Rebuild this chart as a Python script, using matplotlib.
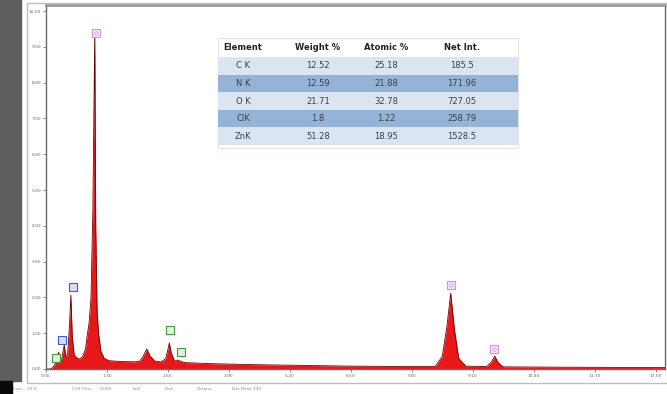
import matplotlib.pyplot as plt
import matplotlib.patches as mpatches

# spectrum points (keV, counts in axis units)
energy = [0.00, 0.10, 0.15, 0.20, 0.24, 0.27, 0.30, 0.34, 0.37, 0.39, 0.42, 0.46,
          0.50, 0.53, 0.56, 0.60, 0.66, 0.72, 0.78, 0.84, 0.88, 0.92, 0.96, 1.00,
          1.04, 1.06, 1.09, 1.12, 1.17, 1.24, 1.35, 1.60, 1.90, 2.00, 2.07, 2.15,
          2.22, 2.32, 2.45, 2.55, 2.60, 2.63, 2.67, 2.74, 2.81, 2.86, 2.95, 3.50,
          4.50, 5.50, 6.50, 7.50, 8.30, 8.45, 8.55, 8.63, 8.71, 8.80, 8.95, 9.40,
          9.50, 9.57, 9.64, 9.75, 11.00, 13.20]
counts = [0.00, 0.00, 0.05, 0.15, 0.30, 0.47, 0.25, 0.30, 0.55, 0.67, 0.35, 0.40,
          1.20, 2.07, 0.90, 0.40, 0.30, 0.28, 0.35, 0.55, 0.95, 1.30, 2.00, 4.50,
          9.47, 4.00, 1.60, 1.00, 0.50, 0.30, 0.23, 0.21, 0.20, 0.22, 0.35, 0.56,
          0.36, 0.22, 0.20, 0.28, 0.55, 0.73, 0.45, 0.22, 0.25, 0.22, 0.18, 0.15,
          0.12, 0.10, 0.08, 0.07, 0.07, 0.35, 1.20, 2.12, 1.10, 0.30, 0.08, 0.07,
          0.20, 0.36, 0.18, 0.06, 0.05, 0.04]

# peak id boxes (keV, height of box, colour kind)
mark_kev = [0.22, 0.34, 0.57, 1.06, 2.65, 2.87, 8.63, 9.55]
mark_y = [0.31, 0.81, 2.29, 9.39, 1.09, 0.47, 2.35, 0.56]
mark_kind = ['g', 'b', 'b', 'z', 'g', 'g', 'z', 'z']

xticks = [0.0, 1.3, 2.6, 3.9, 5.2, 6.5, 7.8, 9.1, 10.4, 11.7, 13.0]
yticks = [0, 1, 2, 3, 4, 5, 6, 7, 8, 9, 10]

# quant table
elements = ['C K', 'N K', 'O K', 'ClK', 'ZnK']
weight = ['12.52', '12.59', '21.71', '1.8', '51.28']
atomic = ['25.18', '21.88', '32.78', '1.22', '18.95']
net_int = ['185.5', '171.96', '727.05', '258.79', '1528.5']
headers = ['Element', 'Weight %', 'Atomic %', 'Net Int.']

W, H = 667, 394
fig = plt.figure(figsize=(W / 100, H / 100), dpi=100)


def fx(x):
    return x / W


def fy(y):
    return 1 - y / H


# dark photo border on the left, black corner
fig.patches.append(mpatches.Rectangle((0, fy(381)), fx(21), 1 - fy(381),
                                      transform=fig.transFigure, color='#5e5e5e'))
fig.patches.append(mpatches.Rectangle((0, 0), fx(12), fy(381),
                                      transform=fig.transFigure, color='#0a0a0a'))
# outer light frame
fig.patches.append(mpatches.Rectangle((fx(27), fy(383)), 1.0, fy(3) - fy(383),
                                      transform=fig.transFigure, fill=False,
                                      edgecolor='#bdbdbd', lw=1))

ax = fig.add_axes([fx(46), fy(369), fx(665) - fx(46), fy(5) - fy(369)])
ax.fill_between(energy, counts, color='#e8171a', lw=0)
ax.plot(energy, counts, color='#6e0000', lw=0.6)

colors = {'z': ('#c79ad0', '#f6e6f6'), 'b': ('#3f5fbf', '#d7def4'),
          'g': ('#3c9c3c', '#dff0df')}
for e, t, k in zip(mark_kev, mark_y, mark_kind):
    ec, fc = colors[k]
    ax.plot(e, t, marker='s', ms=5.5, mec=ec, mfc=fc, mew=0.8, clip_on=False)
    if k == 'z':
        ax.plot(e, t, marker='o', ms=2.5, mec=ec, mfc='none', mew=0.5)

ax.set_xlim(0, 13.2)
ax.set_ylim(0, 10.17)
ax.set_xticks(xticks)
ax.set_xticklabels([f'{v:.2f}' for v in xticks])
ax.set_yticks(yticks)
ax.set_yticklabels([f'{v:.2f}' for v in yticks])
ax.tick_params(labelsize=3.2, labelcolor='#6a6a6a', length=2, width=0.6,
               color='#777777', pad=1.5)
for s in ax.spines.values():
    s.set_color('#6a6a6a')
    s.set_linewidth(1.0)
ax.spines['top'].set_linewidth(2.0)
ax.spines['top'].set_color('#9a9a9a')

# table
tx0, tx1 = 218, 518
col_x = [243, 318, 386, 462]
row_y0 = 57
row_h = 17.6
fig.patches.append(mpatches.Rectangle((fx(tx0), fy(row_y0 + 5 * row_h + 3)), fx(tx1 - tx0),
                                      fy(38) - fy(row_y0 + 5 * row_h + 3),
                                      transform=fig.transFigure, fill=False,
                                      edgecolor='#e4e4e4', lw=0.8))
for i in range(len(elements)):
    c = '#dbe5f1' if i % 2 == 0 else '#95b3d7'
    y0 = row_y0 + i * row_h
    fig.patches.append(mpatches.Rectangle((fx(tx0), fy(y0 + row_h)), fx(tx1 - tx0),
                                          fy(y0) - fy(y0 + row_h),
                                          transform=fig.transFigure, color=c, lw=0))
    for cx, val in zip(col_x, [elements[i], weight[i], atomic[i], net_int[i]]):
        fig.text(fx(cx), fy(y0 + row_h / 2), val, ha='center', va='center',
                 fontsize=6, color='#3a3f48')
for cx, h in zip(col_x, headers):
    fig.text(fx(cx), fy(47), h, ha='center', va='center', fontsize=6,
             fontweight='bold', color='#222222')

# status line at the bottom
status = ['Lsec : 30.0', '570 Cnts', '0.000', 'keV', 'Det :', 'Octane', 'Det Reso 130']
status_x = [13, 72, 100, 133, 165, 197, 232]
for sx, st in zip(status_x, status):
    fig.text(fx(sx), fy(389), st, ha='left', va='center', fontsize=3.2, color='#8a8a8a')

fig.savefig('out.png', dpi=100)
